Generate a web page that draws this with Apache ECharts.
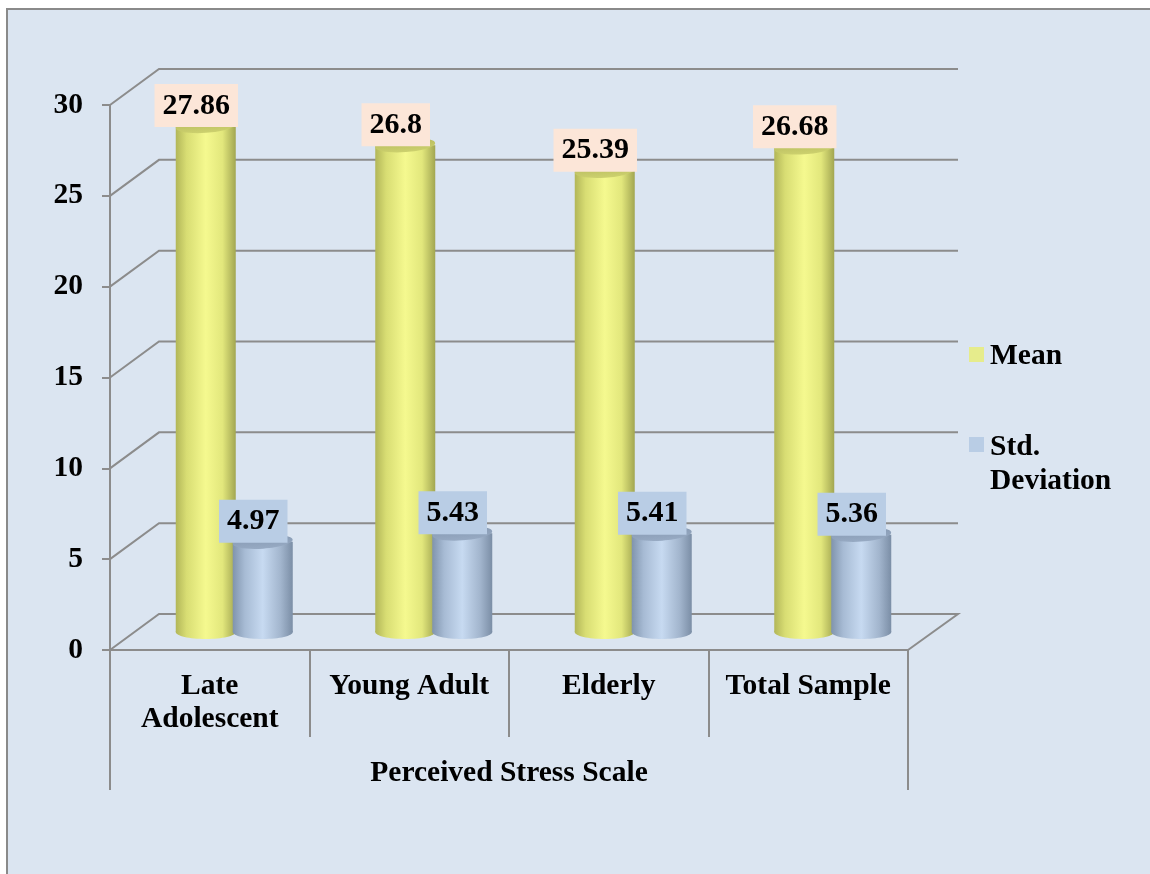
<!DOCTYPE html>
<html>
<head>
<meta charset="utf-8">
<script src="https://cdn.jsdelivr.net/npm/echarts@6/dist/echarts.min.js"></script>
<style>
  html, body { margin: 0; padding: 0; background: #ffffff; }
  #chart { width: 1150px; height: 874px; }
</style>
</head>
<body>
<div id="chart"></div>
<script>
// ---- data ----
const categories = ['Late\nAdolescent', 'Young Adult', 'Elderly', 'Total Sample'];
const groupLabel = 'Perceived Stress Scale';
const seriesNames = ['Mean', 'Std.\nDeviation'];
const meanValues = [27.86, 26.8, 25.39, 26.68];
const sdValues = [4.97, 5.43, 5.41, 5.36];
const yTicks = [0, 5, 10, 15, 20, 25, 30];

// ---- styling ----
const FONT = '"Liberation Serif", "Times New Roman", serif';
const FONT_SIZE = 29.5;
const AXIS_GRAY = '#8C8C8C';
const DEPTH_X = 49;     // horizontal shift of the back wall
const DEPTH_Y = -36;    // vertical shift of the back wall
const RX = 30, RY = 7;  // cylinder radii
const PAIR_OFFSET = 28.5;

const palettes = {
  mean: {
    body: [[0, '#B2B658'], [0.18, '#D8DD73'], [0.5, '#F5F98F'], [0.78, '#E2E77C'], [1, '#A2A651']],
    top: [[0, '#B5B95D'], [1, '#CDD16E']],
    label: '#FCE6D8',
    legend: '#E6EC8C'
  },
  sd: {
    body: [[0, '#8094AD'], [0.2, '#A7BBD4'], [0.5, '#C7DAF1'], [0.8, '#A2B5CD'], [1, '#7B8EA6']],
    top: [[0, '#8699B2'], [1, '#97AAC3']],
    label: '#B9CDE5',
    legend: '#B9CDE5'
  }
};

function grad(stops, vertical) {
  return new echarts.graphic.LinearGradient(0, 0, vertical ? 0 : 1, vertical ? 1 : 0,
    stops.map(s => ({ offset: s[0], color: s[1] })));
}

// cylinder drawn at mid-depth between the front plane and the back wall
function cylinder(side, pal) {
  return function (params, api) {
    const idx = api.value(0);
    const v = api.value(1);
    const base = api.coord([idx, 0]);
    const top = api.coord([idx, v]);
    const cx = base[0] + DEPTH_X / 2 + side * PAIR_OFFSET;
    const by = base[1] + DEPTH_Y / 2;
    const ty = top[1] + DEPTH_Y / 2;
    return {
      type: 'group',
      children: [
        { type: 'ellipse', shape: { cx: cx, cy: by, rx: RX, ry: RY }, style: { fill: grad(pal.body) } },
        { type: 'rect', shape: { x: cx - RX, y: ty, width: RX * 2, height: by - ty }, style: { fill: grad(pal.body) } },
        { type: 'ellipse', shape: { cx: cx, cy: ty, rx: RX, ry: RY },
          rotation: 0.07, originX: cx, originY: ty,
          style: { fill: grad(pal.top, true) } },
        { type: 'text', z2: 10,
          style: {
            text: String(v), x: cx - 9.5, y: ty + 1,
            align: 'center', verticalAlign: 'bottom',
            font: 'bold 30px ' + FONT, fill: '#000',
            backgroundColor: pal.label, padding: [7, 8, 6, 8]
          } }
      ]
    };
  };
}

// 3D wall grid lines: front tick -> diagonal -> back wall line
function wallLine(params, api) {
  const cs = params.coordSys;
  const v = api.value(1);
  const y = api.coord([0, v])[1];
  const x0 = cs.x, x1 = cs.x + cs.width;
  const pts = [[x1 + DEPTH_X + 1, y + DEPTH_Y], [x0 + DEPTH_X, y + DEPTH_Y], [x0, y]];
  if (v === 0) pts.unshift([x1, y]);
  return { type: 'polyline', shape: { points: pts }, style: { stroke: AXIS_GRAY, lineWidth: 2, fill: null } };
}

const chart = echarts.init(document.getElementById('chart'), null, { renderer: 'canvas' });

const labelFont = { fontFamily: FONT, fontWeight: 'bold', fontSize: FONT_SIZE, color: '#000' };

chart.setOption({
  animation: false,
  backgroundColor: '#ffffff',
  graphic: [
    { type: 'rect', z: -10, shape: { x: 7, y: 9, width: 1160, height: 880 },
      style: { fill: '#DBE5F1', stroke: '#8A8A8A', lineWidth: 2 } },
    { type: 'rect', shape: { x: 969, y: 347, width: 15, height: 15 }, style: { fill: palettes.mean.legend } },
    { type: 'text', style: { text: seriesNames[0], x: 990, y: 356, verticalAlign: 'middle',
      font: 'bold ' + FONT_SIZE + 'px ' + FONT, fill: '#000' } },
    { type: 'rect', shape: { x: 969, y: 437, width: 15, height: 15 }, style: { fill: palettes.sd.legend } },
    { type: 'text', style: { text: seriesNames[1], x: 990, y: 430, verticalAlign: 'top', lineHeight: 34,
      font: 'bold ' + FONT_SIZE + 'px ' + FONT, fill: '#000' } }
  ],
  grid: { left: 110, right: 242, top: 105, bottom: 224, containLabel: false },
  xAxis: [
    {
      type: 'category', data: categories, position: 'bottom',
      axisLine: { show: true, lineStyle: { color: AXIS_GRAY, width: 2 } },
      axisTick: { show: true, length: 87, lineStyle: { color: AXIS_GRAY, width: 2 } },
      axisLabel: Object.assign({ margin: 20, lineHeight: 33, interval: 0 }, labelFont),
      splitLine: { show: false }
    },
    {
      type: 'category', data: [groupLabel], position: 'bottom',
      axisLine: { show: false },
      axisTick: { show: true, length: 140, lineStyle: { color: AXIS_GRAY, width: 2 } },
      axisLabel: Object.assign({ margin: 107, lineHeight: 33 }, labelFont),
      splitLine: { show: false }
    }
  ],
  yAxis: {
    type: 'value', min: 0, max: 30, interval: 5,
    axisLine: { show: true, lineStyle: { color: AXIS_GRAY, width: 2 } },
    axisTick: { show: true, length: 8, lineStyle: { color: AXIS_GRAY, width: 2 } },
    axisLabel: Object.assign({ margin: 27 }, labelFont),
    splitLine: { show: false }
  },
  series: [
    {
      name: 'grid', type: 'custom', silent: true, z: 1,
      renderItem: wallLine,
      data: yTicks.map(t => [0, t])
    },
    {
      name: 'Mean', type: 'custom', z: 3,
      renderItem: cylinder(-1, palettes.mean),
      data: meanValues.map((v, i) => [i, v])
    },
    {
      name: 'Std. Deviation', type: 'custom', z: 4,
      renderItem: cylinder(1, palettes.sd),
      data: sdValues.map((v, i) => [i, v])
    }
  ]
});
</script>
</body>
</html>
